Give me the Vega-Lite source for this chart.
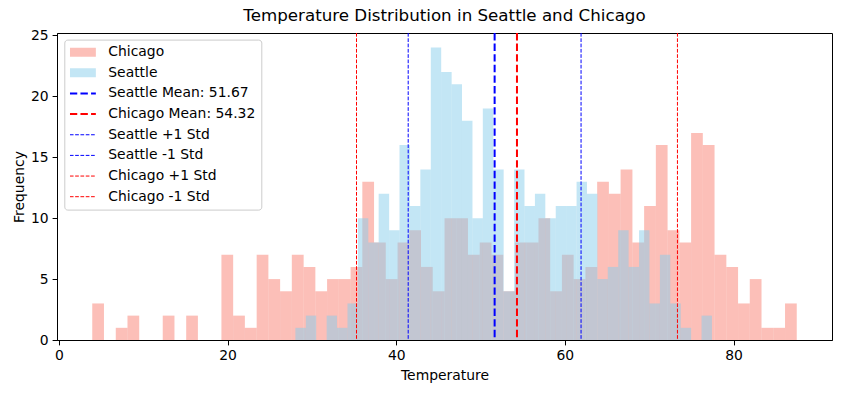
{
  "$schema": "https://vega.github.io/schema/vega-lite/v6.json",
  "width": 775,
  "height": 307,
  "autosize": {"type": "none"},
  "padding": {"left": 57, "top": 33, "right": 9, "bottom": 53},
  "background": "white",
  "title": {"text": "Temperature Distribution in Seattle and Chicago", "font": "DejaVu Sans", "fontSize": 16.7, "fontWeight": "normal", "color": "black", "anchor": "middle", "frame": "group", "baseline": "alphabetic", "offset": -9},
  "config": {
    "view": {"stroke": "black", "strokeWidth": 1},
    "axis": {"labelFont": "DejaVu Sans", "labelFontSize": 13.9, "labelColor": "black", "titleFont": "DejaVu Sans", "titleFontSize": 13.9, "titleFontWeight": "normal", "titleColor": "black", "tickColor": "black", "domainColor": "black", "tickSize": 4.9, "labelPadding": 4, "grid": false, "titlePadding": 4, "labelFlush": false, "labelOverlap": false},
    "legend": {"clipHeight": 13.9}
  },
  "layer": [
    {
      "data": {"values": [
        {"label": "Chicago", "start": 3.95, "end": 5.34, "count": 3},
        {"label": "Chicago", "start": 5.34, "end": 6.74, "count": 0},
        {"label": "Chicago", "start": 6.74, "end": 8.13, "count": 1},
        {"label": "Chicago", "start": 8.13, "end": 9.52, "count": 2},
        {"label": "Chicago", "start": 9.52, "end": 10.91, "count": 0},
        {"label": "Chicago", "start": 10.91, "end": 12.31, "count": 0},
        {"label": "Chicago", "start": 12.31, "end": 13.70, "count": 2},
        {"label": "Chicago", "start": 13.70, "end": 15.09, "count": 0},
        {"label": "Chicago", "start": 15.09, "end": 16.48, "count": 2},
        {"label": "Chicago", "start": 16.48, "end": 17.88, "count": 0},
        {"label": "Chicago", "start": 17.88, "end": 19.27, "count": 0},
        {"label": "Chicago", "start": 19.27, "end": 20.66, "count": 7},
        {"label": "Chicago", "start": 20.66, "end": 22.05, "count": 2},
        {"label": "Chicago", "start": 22.05, "end": 23.45, "count": 1},
        {"label": "Chicago", "start": 23.45, "end": 24.84, "count": 7},
        {"label": "Chicago", "start": 24.84, "end": 26.23, "count": 5},
        {"label": "Chicago", "start": 26.23, "end": 27.62, "count": 4},
        {"label": "Chicago", "start": 27.62, "end": 29.02, "count": 7},
        {"label": "Chicago", "start": 29.02, "end": 30.41, "count": 6},
        {"label": "Chicago", "start": 30.41, "end": 31.80, "count": 4},
        {"label": "Chicago", "start": 31.80, "end": 33.19, "count": 5},
        {"label": "Chicago", "start": 33.19, "end": 34.59, "count": 5},
        {"label": "Chicago", "start": 34.59, "end": 35.98, "count": 6},
        {"label": "Chicago", "start": 35.98, "end": 37.37, "count": 13},
        {"label": "Chicago", "start": 37.37, "end": 38.76, "count": 8},
        {"label": "Chicago", "start": 38.76, "end": 40.16, "count": 5},
        {"label": "Chicago", "start": 40.16, "end": 41.55, "count": 8},
        {"label": "Chicago", "start": 41.55, "end": 42.94, "count": 9},
        {"label": "Chicago", "start": 42.94, "end": 44.33, "count": 6},
        {"label": "Chicago", "start": 44.33, "end": 45.73, "count": 4},
        {"label": "Chicago", "start": 45.73, "end": 47.12, "count": 10},
        {"label": "Chicago", "start": 47.12, "end": 48.51, "count": 10},
        {"label": "Chicago", "start": 48.51, "end": 49.90, "count": 7},
        {"label": "Chicago", "start": 49.90, "end": 51.30, "count": 8},
        {"label": "Chicago", "start": 51.30, "end": 52.69, "count": 7},
        {"label": "Chicago", "start": 52.69, "end": 54.08, "count": 4},
        {"label": "Chicago", "start": 54.08, "end": 55.47, "count": 8},
        {"label": "Chicago", "start": 55.47, "end": 56.87, "count": 8},
        {"label": "Chicago", "start": 56.87, "end": 58.26, "count": 10},
        {"label": "Chicago", "start": 58.26, "end": 59.65, "count": 4},
        {"label": "Chicago", "start": 59.65, "end": 61.04, "count": 7},
        {"label": "Chicago", "start": 61.04, "end": 62.44, "count": 5},
        {"label": "Chicago", "start": 62.44, "end": 63.83, "count": 6},
        {"label": "Chicago", "start": 63.83, "end": 65.22, "count": 13},
        {"label": "Chicago", "start": 65.22, "end": 66.61, "count": 12},
        {"label": "Chicago", "start": 66.61, "end": 68.01, "count": 14},
        {"label": "Chicago", "start": 68.01, "end": 69.40, "count": 8},
        {"label": "Chicago", "start": 69.40, "end": 70.79, "count": 11},
        {"label": "Chicago", "start": 70.79, "end": 72.18, "count": 16},
        {"label": "Chicago", "start": 72.18, "end": 73.58, "count": 9},
        {"label": "Chicago", "start": 73.58, "end": 74.97, "count": 8},
        {"label": "Chicago", "start": 74.97, "end": 76.36, "count": 17},
        {"label": "Chicago", "start": 76.36, "end": 77.75, "count": 16},
        {"label": "Chicago", "start": 77.75, "end": 79.15, "count": 7},
        {"label": "Chicago", "start": 79.15, "end": 80.54, "count": 6},
        {"label": "Chicago", "start": 80.54, "end": 81.93, "count": 3},
        {"label": "Chicago", "start": 81.93, "end": 83.32, "count": 5},
        {"label": "Chicago", "start": 83.32, "end": 84.72, "count": 1},
        {"label": "Chicago", "start": 84.72, "end": 86.11, "count": 1},
        {"label": "Chicago", "start": 86.11, "end": 87.50, "count": 3},
        {"label": "Seattle", "start": 28.04, "end": 29.28, "count": 1},
        {"label": "Seattle", "start": 29.28, "end": 30.51, "count": 2},
        {"label": "Seattle", "start": 30.51, "end": 31.75, "count": 0},
        {"label": "Seattle", "start": 31.75, "end": 32.98, "count": 2},
        {"label": "Seattle", "start": 32.98, "end": 34.22, "count": 1},
        {"label": "Seattle", "start": 34.22, "end": 35.45, "count": 3},
        {"label": "Seattle", "start": 35.45, "end": 36.69, "count": 10},
        {"label": "Seattle", "start": 36.69, "end": 37.92, "count": 8},
        {"label": "Seattle", "start": 37.92, "end": 39.16, "count": 12},
        {"label": "Seattle", "start": 39.16, "end": 40.39, "count": 9},
        {"label": "Seattle", "start": 40.39, "end": 41.63, "count": 16},
        {"label": "Seattle", "start": 41.63, "end": 42.86, "count": 11},
        {"label": "Seattle", "start": 42.86, "end": 44.10, "count": 14},
        {"label": "Seattle", "start": 44.10, "end": 45.33, "count": 24},
        {"label": "Seattle", "start": 45.33, "end": 46.57, "count": 22},
        {"label": "Seattle", "start": 46.57, "end": 47.80, "count": 21},
        {"label": "Seattle", "start": 47.80, "end": 49.04, "count": 18},
        {"label": "Seattle", "start": 49.04, "end": 50.27, "count": 10},
        {"label": "Seattle", "start": 50.27, "end": 51.51, "count": 19},
        {"label": "Seattle", "start": 51.51, "end": 52.74, "count": 14},
        {"label": "Seattle", "start": 52.74, "end": 53.98, "count": 4},
        {"label": "Seattle", "start": 53.98, "end": 55.21, "count": 14},
        {"label": "Seattle", "start": 55.21, "end": 56.45, "count": 11},
        {"label": "Seattle", "start": 56.45, "end": 57.68, "count": 12},
        {"label": "Seattle", "start": 57.68, "end": 58.92, "count": 10},
        {"label": "Seattle", "start": 58.92, "end": 60.15, "count": 11},
        {"label": "Seattle", "start": 60.15, "end": 61.39, "count": 11},
        {"label": "Seattle", "start": 61.39, "end": 62.62, "count": 13},
        {"label": "Seattle", "start": 62.62, "end": 63.86, "count": 12},
        {"label": "Seattle", "start": 63.86, "end": 65.09, "count": 5},
        {"label": "Seattle", "start": 65.09, "end": 66.33, "count": 6},
        {"label": "Seattle", "start": 66.33, "end": 67.56, "count": 9},
        {"label": "Seattle", "start": 67.56, "end": 68.80, "count": 6},
        {"label": "Seattle", "start": 68.80, "end": 70.03, "count": 9},
        {"label": "Seattle", "start": 70.03, "end": 71.27, "count": 3},
        {"label": "Seattle", "start": 71.27, "end": 72.50, "count": 7},
        {"label": "Seattle", "start": 72.50, "end": 73.74, "count": 3},
        {"label": "Seattle", "start": 73.74, "end": 74.97, "count": 1},
        {"label": "Seattle", "start": 74.97, "end": 76.21, "count": 0},
        {"label": "Seattle", "start": 76.21, "end": 77.44, "count": 2}
      ]},
      "mark": {"type": "rect", "fillOpacity": 0.5},
      "encoding": {
        "x": {"field": "start", "type": "quantitative", "scale": {"domain": [-0.23, 91.68], "nice": false, "zero": false}, "axis": {"values": [0, 20, 40, 60, 80], "title": "Temperature", "titlePadding": 6}},
        "x2": {"field": "end"},
        "y": {"field": "count", "type": "quantitative", "scale": {"domain": [0, 25.2], "nice": false}, "axis": {"values": [0, 5, 10, 15, 20, 25], "title": "Frequency"}},
        "y2": {"datum": 0},
        "fill": {
          "field": "label", "type": "nominal",
          "scale": {"domain": ["Chicago", "Seattle"], "range": ["#FA8072", "#87CEEB"]},
          "legend": null
        }
      }
    },
    {
      "data": {"values": [
        {"label": "Seattle Mean: 51.67", "value": 51.67},
        {"label": "Chicago Mean: 54.32", "value": 54.32},
        {"label": "Seattle +1 Std", "value": 61.92},
        {"label": "Seattle -1 Std", "value": 41.42},
        {"label": "Chicago +1 Std", "value": 73.35},
        {"label": "Chicago -1 Std", "value": 35.29}
      ]},
      "mark": {"type": "rule"},
      "encoding": {
        "x": {"field": "value", "type": "quantitative"},
        "stroke": {
          "field": "label", "type": "nominal",
          "scale": {
            "domain": ["Chicago", "Seattle", "Seattle Mean: 51.67", "Chicago Mean: 54.32", "Seattle +1 Std", "Seattle -1 Std", "Chicago +1 Std", "Chicago -1 Std"],
            "range": ["#FCBFB8", "#C3E6F5", "#0000ff", "#ff0000", "#0000ff", "#0000ff", "#ff0000", "#ff0000"]
          },
          "legend": {
            "title": null, "orient": "none", "legendX": 7.3, "legendY": 6.6,
            "padding": 5.6, "rowPadding": 5.65, "symbolType": "M-14,0H12", "symbolSize": 4, "symbolOffset": 7, "labelOffset": 17.5,
            "labelFont": "DejaVu Sans", "labelFontSize": 13.9, "labelColor": "black", "labelLimit": 400,
            "fillColor": "rgba(255,255,255,0.8)", "strokeColor": "#cccccc", "cornerRadius": 3
          }
        },
        "strokeDash": {
          "field": "label", "type": "nominal",
          "scale": {
            "domain": ["Chicago", "Seattle", "Seattle Mean: 51.67", "Chicago Mean: 54.32", "Seattle +1 Std", "Seattle -1 Std", "Chicago +1 Std", "Chicago -1 Std"],
            "range": [[1, 0], [1, 0], [7.4, 3.2], [7.4, 3.2], [3.7, 1.6], [3.7, 1.6], [3.7, 1.6], [3.7, 1.6]]
          },
          "legend": {
            "title": null, "orient": "none", "legendX": 7.3, "legendY": 6.6,
            "padding": 5.6, "rowPadding": 5.65, "symbolType": "M-14,0H12", "symbolSize": 4, "symbolOffset": 7, "labelOffset": 17.5,
            "labelFont": "DejaVu Sans", "labelFontSize": 13.9, "labelColor": "black", "labelLimit": 400,
            "fillColor": "rgba(255,255,255,0.8)", "strokeColor": "#cccccc", "cornerRadius": 3
          }
        },
        "strokeWidth": {
          "field": "label", "type": "nominal",
          "scale": {
            "type": "ordinal",
            "domain": ["Chicago", "Seattle", "Seattle Mean: 51.67", "Chicago Mean: 54.32", "Seattle +1 Std", "Seattle -1 Std", "Chicago +1 Std", "Chicago -1 Std"],
            "range": [9, 9, 2, 2, 1, 1, 1, 1]
          },
          "legend": {
            "title": null, "orient": "none", "legendX": 7.3, "legendY": 6.6,
            "padding": 5.6, "rowPadding": 5.65, "symbolType": "M-14,0H12", "symbolSize": 4, "symbolOffset": 7, "labelOffset": 17.5,
            "labelFont": "DejaVu Sans", "labelFontSize": 13.9, "labelColor": "black", "labelLimit": 400,
            "fillColor": "rgba(255,255,255,0.8)", "strokeColor": "#cccccc", "cornerRadius": 3
          }
        }
      }
    }
  ]
}
